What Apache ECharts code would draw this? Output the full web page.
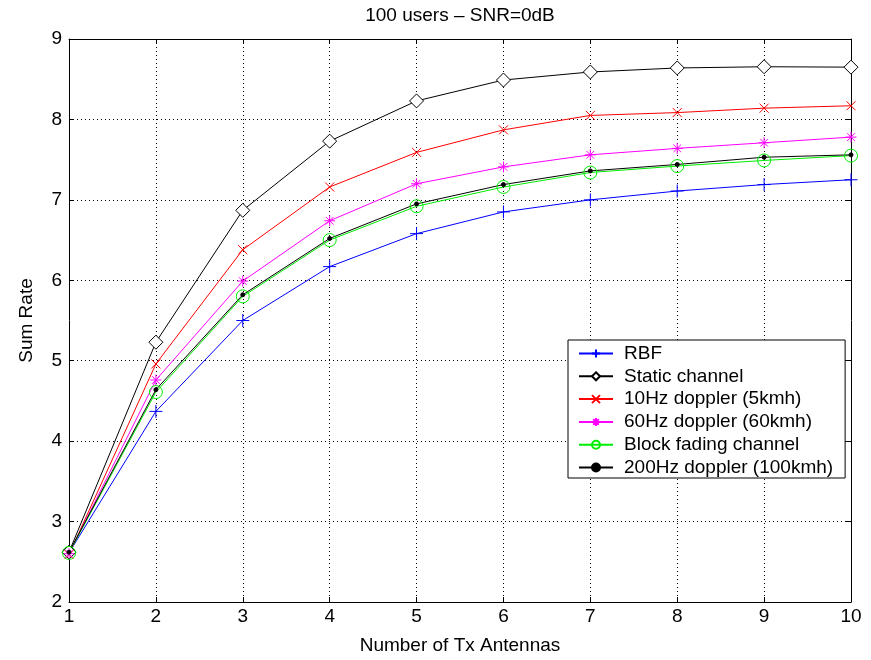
<!DOCTYPE html>
<html><head><meta charset="utf-8">
<script src="https://cdn.jsdelivr.net/npm/echarts@6/dist/echarts.min.js"></script>
<style>html,body{margin:0;padding:0;background:#fff}#c{width:871px;height:660px}</style>
</head><body><div id="c"></div>
<script>
const antennas = [1,2,3,4,5,6,7,8,9,10];
const rbf      = [2.61,4.37,5.50,6.17,6.58,6.85,7.00,7.11,7.19,7.25];
const staticCh = [2.62,5.23,6.87,7.73,8.23,8.49,8.59,8.64,8.655,8.65];
const dop10    = [2.59,4.96,6.38,7.16,7.59,7.87,8.05,8.085,8.14,8.17];
const dop60    = [2.60,4.76,5.99,6.74,7.20,7.41,7.56,7.64,7.71,7.78];
const block    = [2.61,4.61,5.80,6.50,6.92,7.16,7.34,7.42,7.49,7.55];
const dop200   = [2.62,4.64,5.82,6.52,6.95,7.19,7.36,7.44,7.53,7.56];
const names = ['RBF','Static channel','10Hz doppler (5kmh)','60Hz doppler (60kmh)','Block fading channel','200Hz doppler (100kmh)'];
const titleText = '100 users \u2013 SNR=0dB';

const FONT = 'Liberation Sans, Arial, Helvetica, sans-serif';
const FS = 19;
const PLUS = 'path://M5,0 L5,10 M0,5 L10,5';
const CROSS = 'path://M0,0 L10,10 M10,0 L0,10';
const STAR = 'path://M5,0 L5,10 M0,5 L10,5 M1.5,1.5 L8.5,8.5 M8.5,1.5 L1.5,8.5';
const DIAM = 'path://M5,0 L10,5 L5,10 L0,5 Z';

function mk(name, data, color, symbol, size, fill){
  return {
    name, type:'line', data: antennas.map((a,i)=>[a,data[i]]),
    symbol, symbolSize:size, showSymbol:true,
    lineStyle:{color, width:1},
    itemStyle:{color: fill || '#fff', borderColor: color, borderWidth:1},
    emphasis:{disabled:true}, animation:false, z: 2
  };
}

const chart = echarts.init(document.getElementById('c'));
const axisCommon = { min:1, max:10, interval:1, type:'value' };
chart.setOption({
  animation:false,
  backgroundColor:'#fff',
  graphic:[{type:'text', x:460, y:6, style:{text:titleText, fill:'#000',
    font:'19px ' + FONT, textAlign:'center', textVerticalAlign:'top'}}],
  grid:{left:69, top:39, right:20, bottom:56},
  legend:{
    data: names, orient:'vertical', left:568, top:340,
    padding:[4,12,1,10], itemGap:3.8, itemWidth:34, itemHeight:10,
    borderColor:'#000', borderWidth:1, backgroundColor:'#fff', borderRadius:0,
    textStyle:{fontFamily:FONT, fontSize:FS, color:'#000', padding:[0,0,0,6]}
  },
  xAxis:[
    {...axisCommon, name:'Number of Tx Antennas', nameLocation:'middle', nameGap:34,
     nameTextStyle:{fontFamily:FONT, fontSize:FS, color:'#000'},
     axisLine:{lineStyle:{color:'#000', width:1}},
     axisTick:{inside:true, length:5, lineStyle:{color:'#000'}},
     axisLabel:{fontFamily:FONT, fontSize:FS, color:'#000', margin:5},
     splitLine:{show:true, lineStyle:{color:'#000', type:[1,3], width:1}}},
    {...axisCommon, position:'top',
     axisLine:{lineStyle:{color:'#000', width:1}},
     axisTick:{inside:true, length:5, lineStyle:{color:'#000'}},
     axisLabel:{show:false}, splitLine:{show:false}}
  ],
  yAxis:[
    {type:'value', min:2, max:9, interval:1, name:'Sum Rate', nameLocation:'middle', nameGap:33,
     nameTextStyle:{fontFamily:FONT, fontSize:FS, color:'#000'},
     axisLine:{lineStyle:{color:'#000', width:1}},
     axisTick:{inside:true, length:5, lineStyle:{color:'#000'}},
     axisLabel:{fontFamily:FONT, fontSize:FS, color:'#000', margin:7},
     splitLine:{show:true, lineStyle:{color:'#000', type:[1,3], width:1}}},
    {type:'value', min:2, max:9, interval:1, position:'right',
     axisLine:{show:true, lineStyle:{color:'#000', width:1}},
     axisTick:{show:true, inside:true, length:5, lineStyle:{color:'#000'}},
     axisLabel:{show:false}, splitLine:{show:false}}
  ],
  series:[
    mk(names[0], rbf, '#0000ff', PLUS, 13),
    mk(names[1], staticCh, '#000000', DIAM, 14),
    mk(names[2], dop10, '#ff0000', CROSS, 9),
    mk(names[3], dop60, '#ff00ff', STAR, 11),
    mk(names[4], block, '#00ee00', 'circle', 13, 'rgba(255,255,255,0)'),
    mk(names[5], dop200, '#000000', 'circle', 4, '#000')
  ]
});
</script>
</body></html>
